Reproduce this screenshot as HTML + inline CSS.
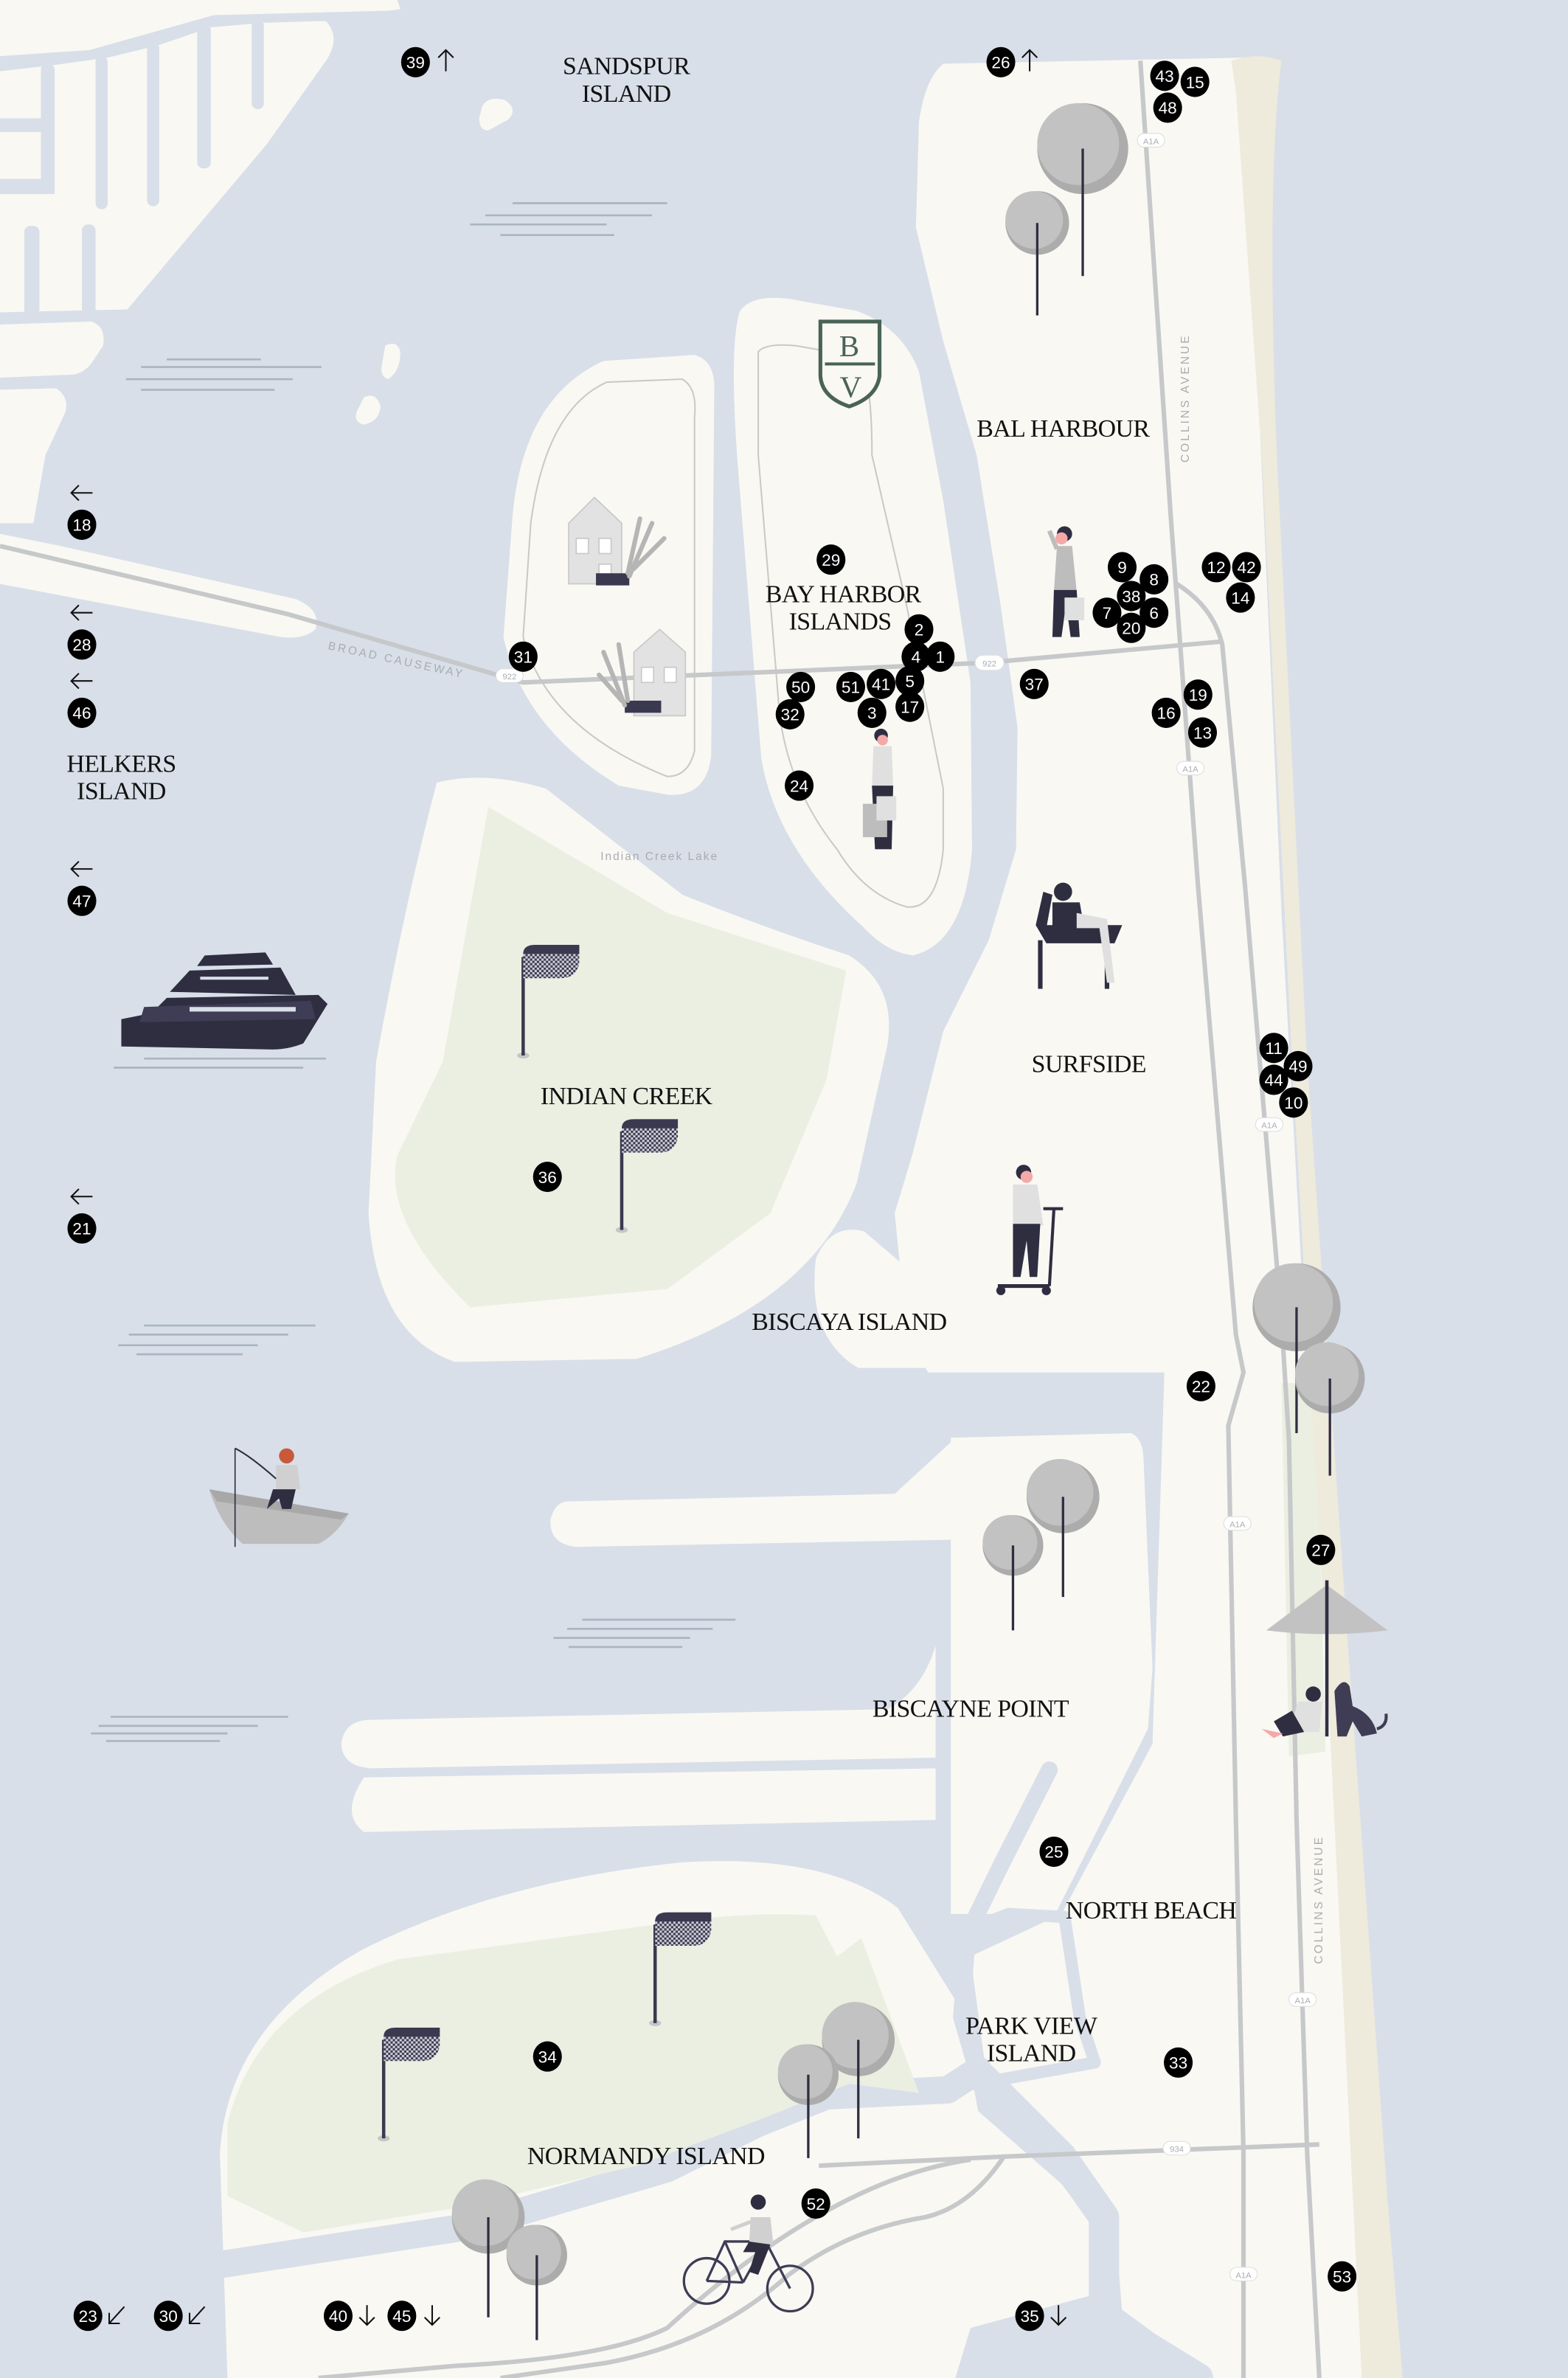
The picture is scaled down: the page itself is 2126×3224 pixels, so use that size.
<!DOCTYPE html>
<html><head><meta charset="utf-8"><style>
html,body{margin:0;padding:0;background:#d8dfe9;}
svg{display:block}
.lb{font-family:"Liberation Serif",serif;font-size:16.5px;fill:#111;text-anchor:middle;letter-spacing:-0.3px;}
.pn text{font-family:"Liberation Sans",sans-serif;font-size:11px;fill:#fff;text-anchor:middle;}
.sm{font-family:"Liberation Sans",sans-serif;font-size:7.5px;fill:#a9acaf;letter-spacing:1.5px;}
.wl{stroke:#aab5c1;stroke-width:1.3;}
.rd{fill:none;stroke:#c6c8ca;stroke-width:3;}
.ch{fill:none;stroke:#d8dfe9;stroke-linejoin:round;stroke-linecap:round;}
</style></head><body>
<svg width="2126" height="3224" viewBox="0 0 1034 1568" preserveAspectRatio="none" xmlns="http://www.w3.org/2000/svg">
<rect width="1034" height="1568" fill="#d8dfe9"/>
<g fill="#f9f8f3">
<path d="M0,0 L262,0 L264,6 L250,8 L215,14 Q225,25 215,40 L176,95 L84,204 L0,206 Z"/>
<path d="M0,214 L60,212 Q70,215 68,228 L60,240 Q55,246 48,247 L0,249 Z"/>
<path d="M0,257 L37,256 Q46,262 43,272 L30,300 L22,345 L0,345 Z"/>
<path d="M0,352 L40,360 L195,395 Q212,402 208,415 Q200,422 185,420 L0,385 Z"/>
<path d="M318,70 Q322,63 333,66 Q342,72 335,79 L322,86 Q316,86 316,78 Z"/>
<path d="M254,228 Q262,224 264,232 Q264,245 256,250 Q250,248 252,240 Z"/>
<path d="M240,262 Q248,258 251,268 Q250,278 240,280 Q232,278 236,270 Z"/>
<path d="M338,340 Q345,262 398,238 L458,234 Q472,238 471,258 L469,498 Q466,526 440,524 L408,518 Q345,480 332,420 Z"/>
<path d="M488,205 Q496,194 520,197 L565,205 Q595,216 606,245 L622,330 L640,450 L641,560 Q636,622 602,630 Q585,628 570,612 Q512,560 502,500 L486,300 Q481,225 488,205 Z"/>
<path d="M288,516 Q320,508 360,520 L450,590 Q505,612 560,630 Q592,650 585,690 L565,780 Q535,860 420,896 L300,898 Q248,880 243,800 L248,700 Q266,600 288,516 Z"/>
<path d="M622,42 L820,38 L845,600 L862,905 L612,905 L598,880 L590,800 L602,760 L622,680 L652,620 L670,560 L671,480 L660,400 L644,300 L622,225 L604,150 L606,80 Q610,52 622,42 Z"/>
<path d="M538,830 Q548,806 570,812 L612,848 L612,902 L566,902 Q532,882 538,830 Z"/>
<path d="M375,990 L590,985 L628,950 L640,1015 L380,1020 Q362,1018 363,1002 Q366,990 375,990 Z"/>
<path d="M627,948 L746,945 Q753,948 754,960 L760,1100 L757,1140 L696,1262 L627,1262 Z"/>
<path d="M245,1134 L585,1127 Q608,1115 617,1085 L617,1159 L245,1166 Q226,1165 225,1150 Q227,1134 245,1134 Z"/>
<path d="M240,1172 L617,1166 L618,1200 L240,1208 Q224,1196 240,1172 Z"/>
<path d="M768,900 L870,900 L905,1568 L790,1568 L740,1525 L735,1462 L700,1420 L652,1380 L640,1290 L700,1262 L760,1150 Z"/>
<path d="M150,1568 L145,1420 Q150,1335 240,1285 Q330,1240 450,1228 Q545,1222 592,1258 L632,1322 L645,1392 L700,1440 L730,1480 L728,1530 L640,1568 Z"/>
</g>
<g fill="#d8dfe9">
<path d="M0,37 L59,33 L141,10 L258,7 L262,14 L208,14 L174,15 L139,18 L104,30 L71,38 L35,43 L0,47 Z"/>
<rect x="27" y="42" width="9" height="84" rx="4"/>
<rect x="63" y="37" width="8" height="101" rx="4"/>
<rect x="97" y="28" width="8" height="108" rx="4"/>
<rect x="130" y="16" width="9" height="95" rx="4"/>
<rect x="166" y="13" width="8" height="59" rx="4"/>
<rect x="0" y="78" width="30" height="9"/>
<rect x="0" y="118" width="36" height="10"/>
<rect x="16" y="149" width="10" height="60" rx="4"/>
<rect x="54" y="148" width="9" height="60" rx="4"/>
</g>
<polyline class="ch" stroke-width="18" points="140,1494 310,1468 440,1430 500,1400 545,1382 625,1378 645,1365"/>
<polyline class="ch" stroke-width="11" points="692,1167 660,1230 638,1275 634,1330 645,1368"/>
<polyline class="ch" stroke-width="8" points="640,1272 665,1262 702,1264 712,1330 722,1360 655,1372"/>
<polyline class="ch" stroke-width="20" points="648,1370 700,1422 728,1462 728,1530 790,1568"/>
<path fill="#d8dfe9" d="M640,1535 L725,1512 L770,1545 L795,1568 L630,1568 Z"/>
<polyline class="ch" stroke-width="6" points="620,1058 620,1260"/>
<g fill="#ebefe2">
<path d="M322,532 L440,602 L558,640 L545,712 L508,800 L440,850 L310,862 Q252,805 262,762 L292,700 Z"/>
<path d="M150,1448 L150,1400 Q170,1320 262,1292 L440,1268 Q495,1260 538,1263 L552,1290 L568,1278 L606,1380 L560,1374 L500,1398 L420,1428 L300,1456 L200,1472 Z"/>
<path d="M845,912 L868,912 L874,1155 L850,1158 Z"/>
</g>
<path fill="#eeeadc" d="M812,40 Q830,34 845,40 Q835,120 842,300 L862,700 L890,1100 L915,1450 L925,1568 L898,1568 L875,1100 L852,700 L832,300 L815,60 Z"/>
<path fill="none" stroke="#c9cac6" stroke-width="1" d="M350,345 Q360,270 400,252 L450,250 Q460,256 458,275 L458,495 Q454,512 440,512 Q360,480 345,420 Z"/>
<path fill="none" stroke="#c9cac6" stroke-width="1" d="M500,232 Q505,226 525,228 L565,235 Q575,245 575,300 L598,400 L622,520 L622,560 Q618,600 598,598 Q570,590 552,560 Q520,520 514,470 L500,300 Z"/>
<polyline class="rd" points="752,40 772,340 790,584 815,880 820,905 810,940 815,1200 820,1420 820,1568"/>
<path class="rd" d="M776,385 Q800,400 806,425 L821,584 L845,870 L850,950 L855,1200 L862,1420 L870,1568"/>
<polyline class="rd" points="0,360 190,405 345,450 650,437 806,423"/>
<polyline class="rd" points="540,1428 662,1422 870,1414"/>
<path class="rd" d="M640,1424 Q600,1430 560,1450 Q500,1480 440,1535 Q400,1555 300,1560 L210,1568"/>
<path class="rd" d="M662,1422 Q640,1455 610,1462 Q560,1470 520,1500 Q470,1545 400,1558 L330,1568"/>
<g font-family="Liberation Sans,sans-serif" font-size="5.5" fill="#a9acaf" text-anchor="middle">
<rect x="643" y="432" width="19" height="10" rx="5" fill="#fff" stroke="#ddd" stroke-width=".5"/><text x="652.5" y="439.5">922</text>
<rect x="327" y="441" width="18" height="9" rx="4.5" fill="#fff" stroke="#ddd" stroke-width=".5"/><text x="336" y="448">922</text>
<rect x="776" y="502" width="18" height="9" rx="4.5" fill="#fff" stroke="#ddd" stroke-width=".5"/><text x="785" y="509">A1A</text>
<rect x="750" y="88" width="18" height="9" rx="4.5" fill="#fff" stroke="#ddd" stroke-width=".5"/><text x="759" y="95">A1A</text>
<rect x="828" y="737" width="18" height="9" rx="4.5" fill="#fff" stroke="#ddd" stroke-width=".5"/><text x="837" y="744">A1A</text>
<rect x="807" y="1000" width="18" height="9" rx="4.5" fill="#fff" stroke="#ddd" stroke-width=".5"/><text x="816" y="1007">A1A</text>
<rect x="850" y="1314" width="18" height="9" rx="4.5" fill="#fff" stroke="#ddd" stroke-width=".5"/><text x="859" y="1321">A1A</text>
<rect x="811" y="1495" width="18" height="9" rx="4.5" fill="#fff" stroke="#ddd" stroke-width=".5"/><text x="820" y="1502">A1A</text>
<rect x="767" y="1412" width="18" height="9" rx="4.5" fill="#fff" stroke="#ddd" stroke-width=".5"/><text x="776" y="1419">934</text>
</g>
<text class="sm" transform="translate(216,428) rotate(12)">BROAD CAUSEWAY</text>
<text class="sm" x="396" y="567" style="letter-spacing:1px">Indian Creek Lake</text>
<text class="sm" transform="translate(784,305) rotate(-90)">COLLINS AVENUE</text>
<text class="sm" transform="translate(872,1295) rotate(-90)">COLLINS AVENUE</text>
<g class="wl">
<line x1="338" y1="134" x2="440" y2="134"/><line x1="320" y1="142" x2="430" y2="142"/><line x1="310" y1="148" x2="400" y2="148"/><line x1="330" y1="155" x2="405" y2="155"/>
<line x1="110" y1="237" x2="172" y2="237"/><line x1="93" y1="242" x2="212" y2="242"/><line x1="83" y1="250" x2="193" y2="250"/><line x1="93" y1="257" x2="181" y2="257"/>
<line x1="95" y1="874" x2="208" y2="874"/><line x1="85" y1="880" x2="190" y2="880"/><line x1="78" y1="887" x2="170" y2="887"/><line x1="90" y1="893" x2="160" y2="893"/>
<line x1="384" y1="1068" x2="485" y2="1068"/><line x1="374" y1="1074" x2="470" y2="1074"/><line x1="365" y1="1080" x2="455" y2="1080"/><line x1="375" y1="1086" x2="450" y2="1086"/>
<line x1="73" y1="1132" x2="190" y2="1132"/><line x1="65" y1="1138" x2="170" y2="1138"/><line x1="60" y1="1143" x2="150" y2="1143"/><line x1="70" y1="1148" x2="145" y2="1148"/>
<line x1="95" y1="698" x2="215" y2="698"/><line x1="75" y1="704" x2="200" y2="704"/>
</g>
<g>
<g><circle cx="714" cy="98" r="30" fill="#acacac"/><circle cx="711" cy="95" r="27" fill="#c2c2c2"/><line x1="714" y1="98" x2="714" y2="182" stroke="#2f2e41" stroke-width="1.6"/></g>
<g><circle cx="684" cy="147" r="21" fill="#acacac"/><circle cx="682" cy="145" r="19" fill="#c2c2c2"/><line x1="684" y1="147" x2="684" y2="208" stroke="#2f2e41" stroke-width="1.6"/></g>
<g><circle cx="855" cy="862" r="29" fill="#acacac"/><circle cx="853" cy="859" r="26" fill="#c2c2c2"/><line x1="855" y1="862" x2="855" y2="945" stroke="#2f2e41" stroke-width="1.6"/></g>
<g><circle cx="877" cy="909" r="23" fill="#acacac"/><circle cx="875" cy="906" r="21" fill="#c2c2c2"/><line x1="877" y1="909" x2="877" y2="973" stroke="#2f2e41" stroke-width="1.6"/></g>
<g><circle cx="701" cy="987" r="24" fill="#acacac"/><circle cx="699" cy="984" r="22" fill="#c2c2c2"/><line x1="701" y1="987" x2="701" y2="1053" stroke="#2f2e41" stroke-width="1.6"/></g>
<g><circle cx="668" cy="1019" r="20" fill="#acacac"/><circle cx="666" cy="1017" r="18" fill="#c2c2c2"/><line x1="668" y1="1019" x2="668" y2="1075" stroke="#2f2e41" stroke-width="1.6"/></g>
<g><circle cx="566" cy="1345" r="24" fill="#acacac"/><circle cx="564" cy="1342" r="22" fill="#c2c2c2"/><line x1="566" y1="1345" x2="566" y2="1410" stroke="#2f2e41" stroke-width="1.6"/></g>
<g><circle cx="533" cy="1368" r="20" fill="#acacac"/><circle cx="531" cy="1366" r="18" fill="#c2c2c2"/><line x1="533" y1="1368" x2="533" y2="1423" stroke="#2f2e41" stroke-width="1.6"/></g>
<g><circle cx="322" cy="1462" r="24" fill="#acacac"/><circle cx="320" cy="1459" r="22" fill="#c2c2c2"/><line x1="322" y1="1462" x2="322" y2="1528" stroke="#2f2e41" stroke-width="1.6"/></g>
<g><circle cx="354" cy="1487" r="20" fill="#acacac"/><circle cx="352" cy="1485" r="18" fill="#c2c2c2"/><line x1="354" y1="1487" x2="354" y2="1543" stroke="#2f2e41" stroke-width="1.6"/></g>
</g>
<defs><pattern id="chk" width="3" height="3" patternUnits="userSpaceOnUse"><rect width="3" height="3" fill="#3a3950"/><rect width="1.5" height="1.5" fill="#cfd0d8"/><rect x="1.5" y="1.5" width="1.5" height="1.5" fill="#cfd0d8"/></pattern></defs>
<g>
<g transform="translate(345,623)"><ellipse cx="0" cy="73" rx="4" ry="2" fill="#c6c6c6"/><line x1="0" y1="8" x2="0" y2="73" stroke="#3a3950" stroke-width="2.2"/><path d="M0,6 Q0,0 8,0 L37,0 L37,12 Q35,22 25,22 L0,22 Z" fill="url(#chk)"/><path d="M0,6 Q0,0 8,0 L37,0 L37,6 L0,6 Z" fill="#3a3950"/></g>
<g transform="translate(410,738)"><ellipse cx="0" cy="73" rx="4" ry="2" fill="#c6c6c6"/><line x1="0" y1="8" x2="0" y2="73" stroke="#3a3950" stroke-width="2.2"/><path d="M0,6 Q0,0 8,0 L37,0 L37,12 Q35,22 25,22 L0,22 Z" fill="url(#chk)"/><path d="M0,6 Q0,0 8,0 L37,0 L37,6 L0,6 Z" fill="#3a3950"/></g>
<g transform="translate(432,1261)"><ellipse cx="0" cy="73" rx="4" ry="2" fill="#c6c6c6"/><line x1="0" y1="8" x2="0" y2="73" stroke="#3a3950" stroke-width="2.2"/><path d="M0,6 Q0,0 8,0 L37,0 L37,12 Q35,22 25,22 L0,22 Z" fill="url(#chk)"/><path d="M0,6 Q0,0 8,0 L37,0 L37,6 L0,6 Z" fill="#3a3950"/></g>
<g transform="translate(253,1337)"><ellipse cx="0" cy="73" rx="4" ry="2" fill="#c6c6c6"/><line x1="0" y1="8" x2="0" y2="73" stroke="#3a3950" stroke-width="2.2"/><path d="M0,6 Q0,0 8,0 L37,0 L37,12 Q35,22 25,22 L0,22 Z" fill="url(#chk)"/><path d="M0,6 Q0,0 8,0 L37,0 L37,6 L0,6 Z" fill="#3a3950"/></g>
</g>
<g fill="#e2e2e2" stroke="#c8c8c8" stroke-width="0.8">
<path d="M375,345 L375,385 L410,385 L410,345 L392,328 Z"/><rect x="380" y="355" width="8" height="10" fill="#fff"/><rect x="395" y="355" width="8" height="10" fill="#fff"/><rect x="395" y="372" width="8" height="12" fill="#fff"/>
<path d="M418,430 L418,472 L452,472 L452,430 L435,415 Z"/><rect x="423" y="440" width="8" height="10" fill="#fff"/><rect x="438" y="440" width="8" height="10" fill="#fff"/>
</g>
<rect x="393" y="378" width="22" height="8" fill="#3a3950"/><rect x="412" y="462" width="24" height="8" fill="#3a3950"/>
<g stroke="#b5b5b5" stroke-width="3" stroke-linecap="round"><line x1="415" y1="380" x2="430" y2="345"/><line x1="418" y1="375" x2="438" y2="355"/><line x1="414" y1="378" x2="422" y2="342"/><line x1="412" y1="465" x2="398" y2="430"/><line x1="410" y1="462" x2="395" y2="445"/><line x1="414" y1="462" x2="408" y2="425"/></g>
<g><path d="M541,212 L580,212 L580,248 Q578,262 560,268 Q542,262 541,248 Z" fill="#f9f8f3" stroke="#4a6358" stroke-width="2.5"/><line x1="544" y1="240" x2="577" y2="240" stroke="#4a6358" stroke-width="2"/><text x="560" y="235" font-family="Liberation Serif,serif" font-size="20" fill="#4a6358" text-anchor="middle">B</text><text x="561" y="262" font-family="Liberation Serif,serif" font-size="20" fill="#4a6358" text-anchor="middle">V</text></g>
<g>
<circle cx="702" cy="352" r="5" fill="#2f2e41"/><circle cx="700" cy="355" r="4" fill="#f4a9a8"/>
<path d="M697,360 L707,360 L710,390 L695,390 Z" fill="#bdbdbd"/><line x1="697" y1="362" x2="692" y2="350" stroke="#bdbdbd" stroke-width="3"/>
<path d="M695,389 L710,389 L712,420 L706,420 L703,398 L700,420 L694,420 Z" fill="#2f2e41"/><rect x="702" y="394" width="13" height="15" fill="#e0e0e0"/>
<circle cx="581" cy="485" r="4.5" fill="#2f2e41"/><circle cx="582" cy="488" r="3.5" fill="#f4a9a8"/>
<path d="M576,492 L588,492 L589,518 L575,518 Z" fill="#e0e0e0"/><path d="M575,518 L589,518 L588,560 L577,560 Z" fill="#2f2e41"/><rect x="569" y="530" width="16" height="22" fill="#bdbdbd"/><rect x="578" y="525" width="13" height="16" fill="#e0e0e0"/>
<path d="M683,610 L740,610 L735,622 L690,622 Z" fill="#2f2e41"/><line x1="686" y1="620" x2="686" y2="652" stroke="#2f2e41" stroke-width="3"/><line x1="730" y1="620" x2="730" y2="652" stroke="#2f2e41" stroke-width="3"/><path d="M683,610 L688,588 L694,590 L690,612 Z" fill="#2f2e41"/>
<circle cx="701" cy="588" r="6" fill="#2f2e41"/><path d="M694,595 L712,595 L715,612 L694,612 Z" fill="#2f2e41"/><path d="M710,602 L730,606 L735,648 L730,648 L725,612 L710,612 Z" fill="#e0e0e0"/>
<circle cx="675" cy="773" r="5" fill="#2f2e41"/><circle cx="677" cy="776" r="4" fill="#f4a9a8"/>
<path d="M668,781 L684,781 L688,808 L668,808 Z" fill="#e0e0e0"/><path d="M668,807 L686,807 L684,842 L679,842 L677,818 L673,842 L668,842 Z" fill="#2f2e41"/>
<line x1="658" y1="848" x2="692" y2="848" stroke="#2f2e41" stroke-width="2.5"/><line x1="692" y1="848" x2="695" y2="797" stroke="#2f2e41" stroke-width="2"/><line x1="688" y1="797" x2="701" y2="797" stroke="#2f2e41" stroke-width="2"/><circle cx="660" cy="851" r="3" fill="#2f2e41"/><circle cx="690" cy="851" r="3" fill="#2f2e41"/>
<path d="M138,982 L230,998 Q222,1012 210,1018 L160,1018 Q145,1005 138,982 Z" fill="#bdbdbd"/><path d="M138,982 L230,998 L225,1002 L143,990 Z" fill="#a8a8a8"/>
<circle cx="189" cy="960" r="5" fill="#c85a3a"/><path d="M182,966 L196,966 L198,982 L182,982 Z" fill="#d0d0d0"/><path d="M180,982 L195,982 L192,995 L186,995 L184,988 L176,995 Z" fill="#2f2e41"/>
<path d="M155,955 Q165,960 182,975" fill="none" stroke="#2f2e41" stroke-width="1"/><line x1="155" y1="955" x2="155" y2="1020" stroke="#2f2e41" stroke-width="0.8"/>
<path d="M80,690 L80,672 L100,668 L110,658 L210,656 L216,662 L200,688 Q190,692 180,692 Z" fill="#2f2e41"/>
<path d="M95,664 L205,660 L208,672 L92,674 Z" fill="#3e3d55"/><path d="M112,654 L125,640 L185,638 L195,656 Z" fill="#2f2e41"/><path d="M130,637 L135,630 L175,628 L180,636 Z" fill="#2f2e41"/>
<rect x="125" y="664" width="70" height="3" fill="#d8dfe9"/><rect x="132" y="644" width="45" height="2" fill="#d8dfe9"/>
<path d="M835,1075 L875,1045 L915,1075 Q875,1080 835,1075 Z" fill="#c2c2c2"/><line x1="875" y1="1042" x2="875" y2="1145" stroke="#2f2e41" stroke-width="2.2"/>
<circle cx="866" cy="1117" r="5" fill="#2f2e41"/><path d="M856,1122 L872,1122 L870,1142 L850,1142 Z" fill="#e0e0e0"/><path d="M840,1135 L852,1128 L860,1142 L846,1145 Z" fill="#2f2e41"/><path d="M832,1140 L846,1143 L840,1146 Z" fill="#f4a9a8"/>
<path d="M880,1115 Q886,1105 890,1112 L892,1125 Q905,1130 908,1143 L898,1145 L892,1135 L888,1145 L882,1145 Z" fill="#3e3d55"/><path d="M908,1140 Q915,1138 914,1130" fill="none" stroke="#3e3d55" stroke-width="2"/>
<circle cx="466" cy="1504" r="15" fill="none" stroke="#3e3d55" stroke-width="1.6"/><circle cx="521" cy="1509" r="15" fill="none" stroke="#3e3d55" stroke-width="1.6"/>
<path d="M466,1504 L478,1478 L505,1478 L521,1509 M490,1505 L478,1478 M490,1505 L505,1478 M466,1504 L490,1505" fill="none" stroke="#3e3d55" stroke-width="1.6"/>
<circle cx="500" cy="1452" r="5" fill="#2f2e41"/><path d="M495,1462 L508,1462 L510,1480 L494,1480 Z" fill="#d0d0d0"/><path d="M494,1478 L508,1480 L500,1500 L494,1498 L498,1485 L490,1485 Z" fill="#2f2e41"/><line x1="495" y1="1465" x2="482" y2="1470" stroke="#d0d0d0" stroke-width="2.5"/>
</g>
<g class="lb">
<text x="413" y="49">SANDSPUR</text><text x="413" y="67">ISLAND</text>
<text x="701" y="288">BAL HARBOUR</text>
<text x="556" y="397">BAY HARBOR</text><text x="554" y="415">ISLANDS</text>
<text x="80" y="509">HELKERS</text><text x="80" y="527">ISLAND</text>
<text x="413" y="728">INDIAN CREEK</text>
<text x="718" y="707">SURFSIDE</text>
<text x="560" y="877">BISCAYA ISLAND</text>
<text x="640" y="1132">BISCAYNE POINT</text>
<text x="759" y="1265">NORTH BEACH</text>
<text x="680" y="1341">PARK VIEW</text><text x="680" y="1359">ISLAND</text>
<text x="426" y="1427">NORMANDY ISLAND</text>
</g>
<g fill="none" stroke="#111" stroke-width="1">
<path d="M294,47 L294,33 M289,38 L294,33 L299,38"/>
<path d="M679,47 L679,33 M674,38 L679,33 L684,38"/>
<path d="M61,325 L47,325 M52,320 L47,325 L52,330"/>
<path d="M61,404 L47,404 M52,399 L47,404 L52,409"/>
<path d="M61,449 L47,449 M52,444 L47,449 L52,454"/>
<path d="M61,573 L47,573 M52,568 L47,573 L52,578"/>
<path d="M61,789 L47,789 M52,784 L47,789 L52,794"/>
<path d="M82,1521 L72,1532 M72,1525 L72,1532 L79,1532"/>
<path d="M135,1521 L125,1532 M125,1525 L125,1532 L132,1532"/>
<path d="M242,1520 L242,1533 M237,1528 L242,1533 L247,1528"/>
<path d="M285,1520 L285,1533 M280,1528 L285,1533 L290,1528"/>
<path d="M698,1520 L698,1533 M693,1528 L698,1533 L703,1528"/>
</g>
<g class="pn">
<g fill="#000">
<ellipse cx="274" cy="41" rx="9.5" ry="10"/><ellipse cx="660" cy="41" rx="9.5" ry="10"/>
<ellipse cx="768" cy="50" rx="9.5" ry="10"/><ellipse cx="788" cy="54" rx="9.5" ry="10"/><ellipse cx="770" cy="71" rx="9.5" ry="10"/>
<ellipse cx="548" cy="369" rx="9.5" ry="10"/>
<ellipse cx="740" cy="374" rx="9.5" ry="10"/><ellipse cx="761" cy="382" rx="9.5" ry="10"/><ellipse cx="746" cy="393" rx="9.5" ry="10"/><ellipse cx="730" cy="404" rx="9.5" ry="10"/><ellipse cx="761" cy="404" rx="9.5" ry="10"/><ellipse cx="746" cy="414" rx="9.5" ry="10"/>
<ellipse cx="802" cy="374" rx="9.5" ry="10"/><ellipse cx="822" cy="374" rx="9.5" ry="10"/><ellipse cx="818" cy="394" rx="9.5" ry="10"/>
<ellipse cx="606" cy="415" rx="9.5" ry="10"/><ellipse cx="620" cy="433" rx="9.5" ry="10"/><ellipse cx="604" cy="433" rx="9.5" ry="10"/><ellipse cx="600" cy="449" rx="9.5" ry="10"/>
<ellipse cx="528" cy="453" rx="9.5" ry="10"/><ellipse cx="561" cy="453" rx="9.5" ry="10"/><ellipse cx="581" cy="451" rx="9.5" ry="10"/><ellipse cx="521" cy="471" rx="9.5" ry="10"/><ellipse cx="575" cy="470" rx="9.5" ry="10"/><ellipse cx="600" cy="466" rx="9.5" ry="10"/>
<ellipse cx="682" cy="451" rx="9.5" ry="10"/><ellipse cx="345" cy="433" rx="9.5" ry="10"/>
<ellipse cx="790" cy="458" rx="9.5" ry="10"/><ellipse cx="769" cy="470" rx="9.5" ry="10"/><ellipse cx="793" cy="483" rx="9.5" ry="10"/>
<ellipse cx="527" cy="518" rx="9.5" ry="10"/>
<ellipse cx="54" cy="346" rx="9.5" ry="10"/><ellipse cx="54" cy="425" rx="9.5" ry="10"/><ellipse cx="54" cy="470" rx="9.5" ry="10"/><ellipse cx="54" cy="594" rx="9.5" ry="10"/><ellipse cx="54" cy="810" rx="9.5" ry="10"/>
<ellipse cx="840" cy="691" rx="9.5" ry="10"/><ellipse cx="856" cy="703" rx="9.5" ry="10"/><ellipse cx="840" cy="712" rx="9.5" ry="10"/><ellipse cx="853" cy="727" rx="9.5" ry="10"/>
<ellipse cx="361" cy="776" rx="9.5" ry="10"/><ellipse cx="792" cy="914" rx="9.5" ry="10"/><ellipse cx="871" cy="1022" rx="9.5" ry="10"/><ellipse cx="695" cy="1221" rx="9.5" ry="10"/>
<ellipse cx="361" cy="1356" rx="9.5" ry="10"/><ellipse cx="777" cy="1360" rx="9.5" ry="10"/><ellipse cx="538" cy="1453" rx="9.5" ry="10"/><ellipse cx="885" cy="1501" rx="9.5" ry="10"/>
<ellipse cx="58" cy="1527" rx="9.5" ry="10"/><ellipse cx="111" cy="1527" rx="9.5" ry="10"/><ellipse cx="223" cy="1527" rx="9.5" ry="10"/><ellipse cx="265" cy="1527" rx="9.5" ry="10"/><ellipse cx="679" cy="1527" rx="9.5" ry="10"/>
</g>
<text x="274" y="45">39</text><text x="660" y="45">26</text>
<text x="768" y="54">43</text><text x="788" y="58">15</text><text x="770" y="75">48</text>
<text x="548" y="373">29</text>
<text x="740" y="378">9</text><text x="761" y="386">8</text><text x="746" y="397">38</text><text x="730" y="408">7</text><text x="761" y="408">6</text><text x="746" y="418">20</text>
<text x="802" y="378">12</text><text x="822" y="378">42</text><text x="818" y="398">14</text>
<text x="606" y="419">2</text><text x="620" y="437">1</text><text x="604" y="437">4</text><text x="600" y="453">5</text>
<text x="528" y="457">50</text><text x="561" y="457">51</text><text x="581" y="455">41</text><text x="521" y="475">32</text><text x="575" y="474">3</text><text x="600" y="470">17</text>
<text x="682" y="455">37</text><text x="345" y="437">31</text>
<text x="790" y="462">19</text><text x="769" y="474">16</text><text x="793" y="487">13</text>
<text x="527" y="522">24</text>
<text x="54" y="350">18</text><text x="54" y="429">28</text><text x="54" y="474">46</text><text x="54" y="598">47</text><text x="54" y="814">21</text>
<text x="840" y="695">11</text><text x="856" y="707">49</text><text x="840" y="716">44</text><text x="853" y="731">10</text>
<text x="361" y="780">36</text><text x="792" y="918">22</text><text x="871" y="1026">27</text><text x="695" y="1225">25</text>
<text x="361" y="1360">34</text><text x="777" y="1364">33</text><text x="538" y="1457">52</text><text x="885" y="1505">53</text>
<text x="58" y="1531">23</text><text x="111" y="1531">30</text><text x="223" y="1531">40</text><text x="265" y="1531">45</text><text x="679" y="1531">35</text>
</g>
</svg>
</body></html>
